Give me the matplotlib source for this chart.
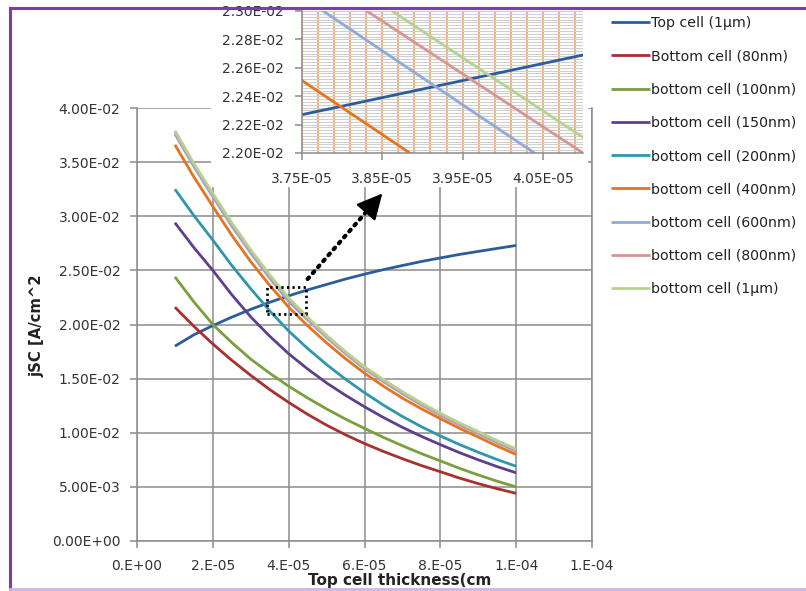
import matplotlib
import matplotlib.pyplot as plt
from matplotlib.lines import Line2D
from matplotlib.patches import Rectangle
from matplotlib.ticker import MultipleLocator, FixedLocator, FuncFormatter

matplotlib.use('Agg')

# thickness of the top cell (cm)
thickness = [1.0e-5, 1.5e-5, 2.0e-5, 2.5e-5, 3.0e-5, 3.5e-5, 4.0e-5, 4.5e-5, 5.0e-5,
             5.5e-5, 6.0e-5, 6.5e-5, 7.0e-5, 7.5e-5, 8.0e-5, 8.5e-5, 9.0e-5, 9.5e-5, 1.0e-4]

# jSC values (A/cm^2)
top_1um = [0.01800, 0.01905, 0.01990, 0.02068, 0.02140, 0.02205, 0.02265, 0.02320, 0.02370,
           0.02420, 0.02465, 0.02507, 0.02545, 0.02582, 0.02615, 0.02647, 0.02675, 0.02703, 0.02730]
bot_80nm = [0.0216, 0.01983, 0.0182, 0.01669, 0.0153, 0.01399, 0.0128, 0.01170, 0.0107,
            0.00981, 0.0090, 0.00827, 0.0076, 0.00697, 0.0064, 0.00582, 0.0053, 0.00483, 0.0044]
bot_100nm = [0.0244, 0.02209, 0.0200, 0.01833, 0.0168, 0.01550, 0.0143, 0.01321, 0.0122,
             0.01126, 0.0104, 0.00957, 0.0088, 0.00807, 0.0074, 0.00672, 0.0061, 0.00552, 0.0050]
bot_150nm = [0.0294, 0.02711, 0.0250, 0.02275, 0.0207, 0.01892, 0.0173, 0.01589, 0.0146,
             0.01346, 0.0124, 0.01141, 0.0105, 0.00967, 0.0089, 0.00817, 0.0075, 0.00687, 0.0063]
bot_200nm = [0.0325, 0.03006, 0.0278, 0.02545, 0.0233, 0.02126, 0.0194, 0.01778, 0.0163,
             0.01494, 0.0137, 0.01255, 0.0115, 0.01056, 0.0097, 0.00892, 0.0082, 0.00752, 0.0069]
bot_400nm = [0.0366, 0.03363, 0.0309, 0.02824, 0.0258, 0.02361, 0.0216, 0.01988, 0.0183,
             0.01684, 0.0155, 0.01430, 0.0132, 0.01221, 0.0113, 0.01042, 0.0096, 0.00876, 0.0080]
bot_600nm = [0.0376, 0.03458, 0.0318, 0.02908, 0.0266, 0.02427, 0.02215, 0.02041, 0.0188,
             0.01729, 0.0159, 0.01471, 0.0136, 0.01256, 0.0116, 0.01072, 0.0099, 0.00906, 0.0083]
bot_800nm = [0.0378, 0.03478, 0.0320, 0.02928, 0.0268, 0.02447, 0.02235, 0.02055, 0.0189,
             0.01739, 0.0160, 0.01481, 0.0137, 0.01266, 0.0117, 0.01082, 0.0100, 0.00917, 0.0084]
bot_1um = [0.0379, 0.03488, 0.0321, 0.02939, 0.0269, 0.02459, 0.02247, 0.02066, 0.0190,
           0.01749, 0.0161, 0.01491, 0.0138, 0.01276, 0.0118, 0.01092, 0.0101, 0.00927, 0.0085]

# zoomed-in values
inset_thickness = [3.75e-5, 4.10e-5]
inset_top_1um = [0.02227, 0.02269]
inset_400nm = [0.02251, 0.02118]
inset_600nm = [0.02310, 0.02177]
inset_800nm = [0.02330, 0.02200]
inset_1um = [0.02342, 0.02211]

labels = ['Top cell (1\u00b5m)', 'Bottom cell (80nm)', 'bottom cell (100nm)',
          'bottom cell (150nm)', 'bottom cell (200nm)', 'bottom cell (400nm)',
          'bottom cell (600nm)', 'bottom cell (800nm)', 'bottom cell (1\u00b5m)']
colors = ['#2C5D9A', '#A8302E', '#79A03C', '#5E3F8E', '#2E97AE',
          '#E5741F', '#8FAADA', '#D99594', '#B5D28F']
series = [top_1um, bot_80nm, bot_100nm, bot_150nm, bot_200nm,
          bot_400nm, bot_600nm, bot_800nm, bot_1um]

inset_series = [(inset_top_1um, 0), (inset_400nm, 5), (inset_600nm, 6),
                (inset_800nm, 7), (inset_1um, 8)]

# zoom box and arrow (data coords)
zoom_box = (3.42e-5, 0.02093, 4.47e-5, 0.02343)
arrow_start = (4.5e-5, 0.0242)
arrow_end = (6.47e-5, 0.0321)

W, H = 806, 591
fig = plt.figure(figsize=(W / 100, H / 100), dpi=100)
fig.patch.set_facecolor('white')

grid_col = '#8C8C8C'
text_col = '#333333'
tick_size = 10

ax = fig.add_axes([137 / W, 1 - 541 / H, (592 - 137) / W, (541 - 108) / H])
for s, c, lab in zip(series, colors, labels):
    ax.plot(thickness, s, color=c, lw=2.0, label=lab, solid_capstyle='butt')

ax.set_xlim(0, 1.2e-4)
ax.set_ylim(0, 0.04)
ax.xaxis.set_major_locator(MultipleLocator(2e-5))
ax.yaxis.set_major_locator(MultipleLocator(0.005))
ax.xaxis.set_major_formatter(FuncFormatter(lambda v, p: '%#.0E' % v))
ax.yaxis.set_major_formatter(FuncFormatter(lambda v, p: '%.2E' % v))
ax.grid(True, color=grid_col, lw=1.1)
ax.set_axisbelow(True)
for side in ['left', 'bottom', 'right']:
    ax.spines[side].set_color(grid_col)
    ax.spines[side].set_linewidth(1.1)
ax.spines['top'].set_visible(False)
ax.tick_params(length=5, color=grid_col, width=1.1, labelsize=tick_size,
               labelcolor=text_col)
ax.tick_params(axis='y', pad=7)
ax.tick_params(axis='x', pad=8)

# dotted zoom box and arrow
x0, y0, x1, y1 = zoom_box
ax.plot([x0, x1, x1, x0, x0], [y0, y0, y1, y1, y0], color='black',
        lw=2, linestyle=(0, (0.8, 1.2)), zorder=5)
head_from = (arrow_start[0] + 0.8 * (arrow_end[0] - arrow_start[0]),
             arrow_start[1] + 0.8 * (arrow_end[1] - arrow_start[1]))
ax.plot([arrow_start[0], head_from[0]], [arrow_start[1], head_from[1]],
        color='black', lw=3, linestyle=(0, (0.5, 1.4)), dash_capstyle='round',
        zorder=6)
ax.annotate('', xy=arrow_end, xytext=head_from,
            arrowprops=dict(arrowstyle='-|>,head_length=0.8,head_width=0.4',
                            color='black', lw=1.5, shrinkA=0, shrinkB=0,
                            mutation_scale=20),
            zorder=6)

fig.text(37 / W, 1 - 326 / H, 'jSC [A/cm^2', rotation=90, ha='center',
         va='center', fontsize=10.7, fontweight='bold', color='#222222')
fig.text(400 / W, 1 - 581 / H, 'Top cell thickness(cm', ha='center',
         va='center', fontsize=11, fontweight='bold', color='#222222')

# white panel behind the inset
fig.patches.append(Rectangle((211 / W, 1 - 187 / H), (588 - 211) / W, 187 / H,
                             transform=fig.transFigure, facecolor='white',
                             edgecolor='none', zorder=1))

axin = fig.add_axes([302 / W, 1 - 153 / H, (583 - 302) / W, (153 - 11) / H])
axin.set_zorder(2)
for s, i in inset_series:
    axin.plot(inset_thickness, s, color=colors[i], lw=2.0)
axin.set_xlim(3.75e-5, 4.10e-5)
axin.set_ylim(0.022, 0.023)
axin.set_xticks([3.75e-5, 3.85e-5, 3.95e-5, 4.05e-5])
axin.xaxis.set_minor_locator(FixedLocator([3.75e-5 + k * 2e-7 for k in range(18)]))
axin.yaxis.set_major_locator(MultipleLocator(0.0002))
axin.yaxis.set_minor_locator(MultipleLocator(0.00002))
axin.xaxis.set_major_formatter(FuncFormatter(lambda v, p: '%.2E' % v))
axin.yaxis.set_major_formatter(FuncFormatter(lambda v, p: '%.2E' % v))
axin.grid(True, which='both', axis='x', color='#F29B45', lw=1.1)
axin.grid(True, which='both', axis='y', color='#CFCFCF', lw=0.8)
axin.set_axisbelow(True)
for side in ['left', 'bottom']:
    axin.spines[side].set_color(grid_col)
    axin.spines[side].set_linewidth(1.1)
for side in ['top', 'right']:
    axin.spines[side].set_visible(False)
axin.tick_params(which='major', length=5, color=grid_col, width=1.1,
                 labelsize=tick_size, labelcolor=text_col)
axin.tick_params(axis='y', which='major', pad=8)
axin.tick_params(axis='x', which='major', pad=9)
axin.tick_params(which='minor', length=0)

handles, labs = ax.get_legend_handles_labels()
fig.legend(handles, labs, loc='upper left', bbox_to_anchor=(611 / W, 1 - 16 / H),
           frameon=False, fontsize=10.2, handlelength=2.75, handletextpad=0.1,
           labelspacing=1.36, borderpad=0, borderaxespad=0,
           labelcolor='#222222')

# slide frame
purple = '#7A3DB0'
fig.lines.append(Line2D([10 / W, 1], [1 - 8 / H, 1 - 8 / H], transform=fig.transFigure,
                        color=purple, lw=2.2, zorder=10))
fig.lines.append(Line2D([10 / W, 10 / W], [1 - 8 / H, 1 - 589 / H], transform=fig.transFigure,
                        color=purple, lw=2.2, zorder=10))
fig.lines.append(Line2D([10 / W, 1], [1 - 589 / H, 1 - 589 / H], transform=fig.transFigure,
                        color='#CDB6E6', lw=2.0, zorder=10))

plt.savefig('out.png', dpi=100)
